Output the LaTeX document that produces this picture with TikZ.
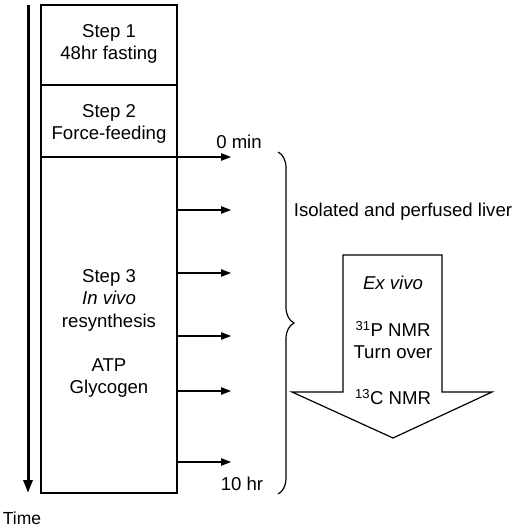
\documentclass[tikz,border=0pt]{standalone}
\usepackage{fontspec}
\setmainfont{Liberation Sans}
\usetikzlibrary{arrows.meta,decorations.pathreplacing,positioning}

\begin{document}
\begin{tikzpicture}[x=1pt,y=-1pt,
  font=\fontsize{18.6}{22.5}\selectfont,
  tick/.style={-{Triangle[length=10pt,width=7.5pt]}, line width=1.1pt},
  label/.style={align=center, inner sep=0pt}]
  \useasboundingbox (0,0) rectangle (512,527);

  % time axis
  \coordinate (t0) at (28,5);
  \coordinate (t1) at (28,493);
  \draw[line width=3pt, -{Triangle[length=13pt,width=9pt]}] (t0) -- (t1);
  \node[label, font=\fontsize{17.5}{21}\selectfont] (time) at (22,518.5) {Time};

  % steps
  \draw[line width=1.2pt] (41,5) rectangle (177,493);
  \draw[line width=1.2pt] (41,85) -- (177,85);
  \node[label] (step1) at (109,44) {Step 1\\48hr fasting};
  \node[label] (step2) at (109,124) {Step 2\\Force-feeding};
  \node[label] (step3) at (109,300) {Step 3\\\textit{In vivo}\\resynthesis};
  \node[label] (atp) at (109,378) {ATP\\Glycogen};

  % sampling arrows
  \coordinate (s0) at (41,157);
  \coordinate (e0) at (231,157);
  \draw[tick] (s0) -- (e0);
  \foreach \y [count=\i] in {210,273,336,391,462}
    \draw[tick] (177,\y) coordinate (s\i) -- (231,\y) coordinate (e\i);
  \node[label] (start) at (239,142) {0 min};
  \node[label] (stop) at (242,484) {10 hr};

  % brace
  \coordinate (b0) at (278,152);
  \coordinate (b1) at (278,494);
  \draw[line width=1.2pt, decorate, decoration={brace, amplitude=16pt}] (b0) -- (b1);
  \node[label] (liver) at (403,212) {Isolated and perfused liver};

  % ex vivo arrow
  \draw[line width=1.2pt] (343,255) -- (442,255) -- (442,392) -- (492,392)
    -- (393,438) -- (292,392) -- (343,392) -- cycle;
  \node[label] (exvivo) at (393,283) {\textit{Ex vivo}};
  \node[label] (pnmr) at (393,340) {\textsuperscript{31}P NMR\\Turn over};
  \node[label] (cnmr) at (393,397) {\textsuperscript{13}C NMR};

\end{tikzpicture}
\end{document}
